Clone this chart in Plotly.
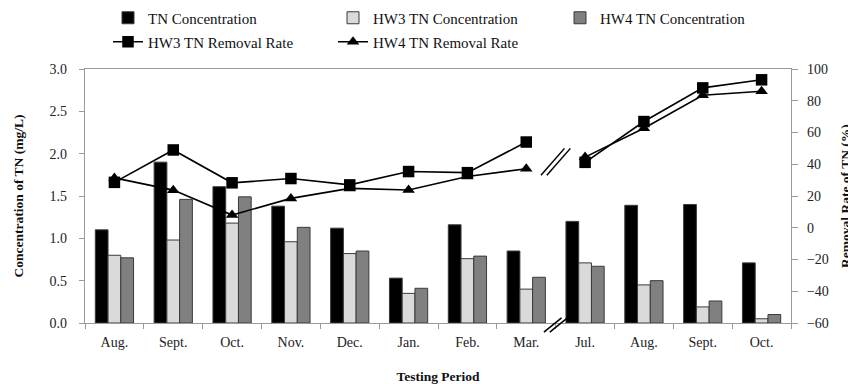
import plotly.graph_objects as go

# ---- data ----
months = ["Aug.", "Sept.", "Oct.", "Nov.", "Dec.", "Jan.", "Feb.", "Mar.",
          "Jul.", "Aug.", "Sept.", "Oct."]
tn_conc = [1.10, 1.90, 1.61, 1.38, 1.12, 0.53, 1.16, 0.85, 1.20, 1.39, 1.40, 0.71]
hw3_conc = [0.80, 0.98, 1.18, 0.96, 0.82, 0.35, 0.76, 0.40, 0.71, 0.45, 0.19, 0.05]
hw4_conc = [0.77, 1.46, 1.49, 1.13, 0.85, 0.41, 0.79, 0.54, 0.67, 0.50, 0.26, 0.10]
hw3_rate = [28.6, 49.0, 28.3, 31.0, 27.0, 35.4, 34.7, 54.0, 41.2, 66.9, 88.1, 93.2]
hw4_rate = [31.4, 23.7, 8.0, 18.5, 24.8, 23.8, 32.3, 37.2, 44.5, 62.7, 83.5, 86.0]
break_after = 7  # the time axis is broken between Mar. and Jul.

FONT = "Liberation Serif, Times New Roman, serif"
idx = list(range(len(months)))
brk = break_after + 0.5


def with_gap(values):
    xs = idx[:break_after + 1] + [brk] + idx[break_after + 1:]
    ys = values[:break_after + 1] + [None] + values[break_after + 1:]
    return xs, ys


fig = go.Figure()
bar_line = dict(color="#3a3a3a", width=1)
fig.add_trace(go.Bar(x=idx, y=tn_conc, name="TN Concentration",
                     marker=dict(color="#000000", line=bar_line), legend="legend"))
fig.add_trace(go.Bar(x=idx, y=hw3_conc, name="HW3 TN Concentration",
                     marker=dict(color="#dadada", line=bar_line), legend="legend2"))
fig.add_trace(go.Bar(x=idx, y=hw4_conc, name="HW4 TN Concentration",
                     marker=dict(color="#808080", line=bar_line), legend="legend3"))

xs3, ys3 = with_gap(hw3_rate)
xs4, ys4 = with_gap(hw4_rate)
fig.add_trace(go.Scatter(x=xs3, y=ys3, name="HW3 TN Removal Rate", yaxis="y2",
                         mode="lines+markers", connectgaps=False,
                         line=dict(color="#000000", width=1.6),
                         marker=dict(symbol="square", size=11.5, color="#000000"),
                         legend="legend4"))
fig.add_trace(go.Scatter(x=xs4, y=ys4, name="HW4 TN Removal Rate", yaxis="y2",
                         mode="lines+markers", connectgaps=False,
                         line=dict(color="#000000", width=1.6),
                         marker=dict(symbol="triangle-up", size=11, color="#000000"),
                         legend="legend5"))

# break marks "//" on the lines and on the time axis
shapes = []
for dx in (-0.05, 0.05):
    shapes.append(dict(type="line", xref="x", yref="y2",
                       x0=brk - 0.2 + dx, x1=brk + 0.2 + dx, y0=33, y1=50,
                       line=dict(color="#000000", width=1.5)))
    shapes.append(dict(type="line", xref="x", yref="paper",
                       x0=brk - 0.15 + dx, x1=brk + 0.15 + dx, y0=-0.036, y1=0.02,
                       line=dict(color="#000000", width=1.5)))

axis_line = dict(showline=True, linecolor="#9a9a9a", linewidth=1.2, automargin=False)

# The page body has an 8 px margin, so the figure is laid out 8 px smaller
# and every pixel position is shifted by that offset.
PAGE_OFF = 8
FIG_W, FIG_H = 856 - PAGE_OFF, 384 - PAGE_OFF
PLOT_L, PLOT_W, PLOT_T, PLOT_H = 85 - PAGE_OFF, 706, 69 - PAGE_OFF, 254


def legend_at(px_x, row):
    # px_x: pixel x (window coords) where the legend box starts; row: 0 (top) or 1
    y_px = (18 if row == 0 else 42) - PAGE_OFF
    return dict(orientation="h", x=(px_x - PAGE_OFF - PLOT_L) / PLOT_W, xanchor="left",
                y=1 + (PLOT_T - y_px) / PLOT_H, yanchor="middle",
                font=dict(family=FONT, size=15, color="#111111"),
                bgcolor="rgba(0,0,0,0)", borderwidth=0)


fig.update_layout(
    template="none",
    width=FIG_W, height=FIG_H,
    margin=dict(l=PLOT_L, r=FIG_W - PLOT_L - PLOT_W, t=PLOT_T, b=FIG_H - PLOT_T - PLOT_H,
                autoexpand=False),
    paper_bgcolor="white", plot_bgcolor="white",
    font=dict(family=FONT, size=14, color="#222222"),
    showlegend=True,
    barmode="group", bargap=0.35, bargroupgap=0,
    shapes=shapes,
    xaxis=dict(range=[-0.5, len(months) - 0.5], tickmode="array", tickvals=idx,
               ticktext=months, ticks="", showgrid=False, zeroline=False,
               mirror=True, ticklabelstandoff=6,
               minor=dict(tickmode="array", tickvals=[i - 0.5 for i in range(len(months) + 1)],
                          ticks="outside", ticklen=5, tickcolor="#9a9a9a", showgrid=False),
               title=dict(text="Testing Period", standoff=22,
                          font=dict(family=FONT, size=13.5, weight="bold", color="#111111")),
               tickfont=dict(family=FONT, size=14), **axis_line),
    yaxis=dict(range=[0, 3], dtick=0.5, tickformat=".1f", ticks="outside", ticklen=5,
               tickcolor="#9a9a9a", showgrid=False, zeroline=False, ticklabelstandoff=9,
               title=dict(text="Concentration of TN (mg/L)", standoff=22,
                          font=dict(family=FONT, size=13.5, weight="bold", color="#111111")),
               tickfont=dict(family=FONT, size=14), **axis_line),
    yaxis2=dict(range=[-60, 100], dtick=20, overlaying="y", side="right",
                ticks="outside", ticklen=6, tickcolor="#9a9a9a", showgrid=False,
                zeroline=False, ticklabelstandoff=6,
                title=dict(text="Removal Rate of TN (%)", standoff=12,
                           font=dict(family=FONT, size=13.5, weight="bold", color="#111111")),
                tickfont=dict(family=FONT, size=14), **axis_line),
    legend=legend_at(108, 0),
    legend2=legend_at(333, 0),
    legend3=legend_at(560, 0),
    legend4=legend_at(108, 1),
    legend5=legend_at(333, 1),
)

fig.write_html("out.html")
